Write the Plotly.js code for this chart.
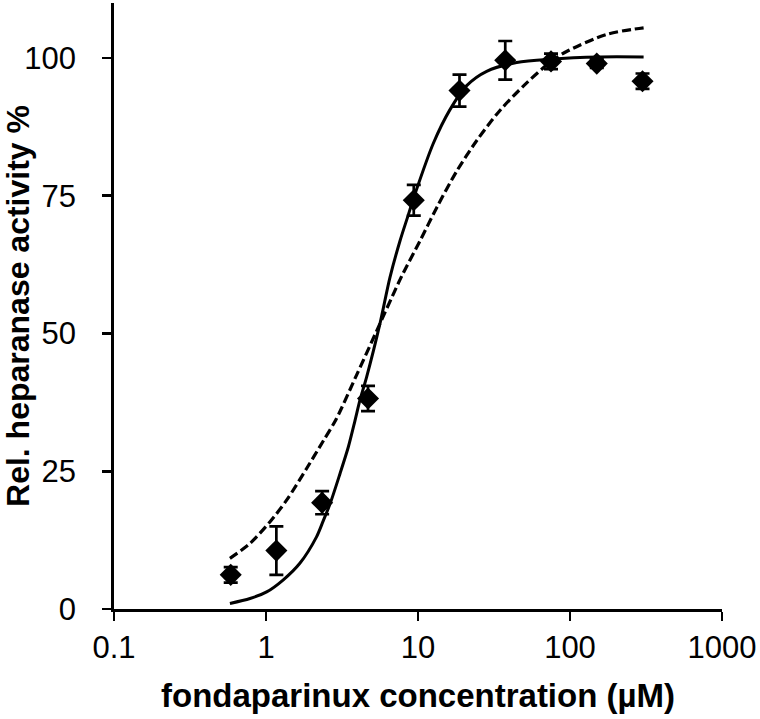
<!DOCTYPE html>
<html>
<head>
<meta charset="utf-8">
<script src="https://cdn.plot.ly/plotly-3.0.1.min.js"></script>
<style>html,body{margin:0;padding:0;background:#fff;}#chart{width:760px;height:719px;}</style>
</head>
<body>
<div id="chart"></div>
<script>
// Measured data (fondaparinux concentration in µM, relative heparanase activity %)
const concentrations = [0.586, 1.17, 2.34, 4.69, 9.38, 18.75, 37.5, 75, 150, 300];
const activity      = [6.2, 10.6, 19.3, 38.2, 74.2, 94.1, 99.6, 99.4, 99.0, 95.8];
const activityErr   = [1.4, 4.4, 2.1, 2.3, 2.8, 2.9, 3.5, 1.4, 0.8, 1.4];

// Solid fitted curve
const solidX = [0.579, 0.785, 1.01, 1.30, 1.67, 2.15, 2.38, 2.64, 3.07, 3.48, 3.85, 4.15, 4.59, 5.62, 6.54, 7.61, 8.51, 9.6, 12.6, 16.2, 20.9, 28.3, 44.6, 73.8, 157, 305];
const solidY = [1.0, 1.9, 3.1, 5.3, 8.3, 13.1, 16.0, 19.1, 24.6, 29.4, 34.2, 37.9, 42.1, 51.8, 60.2, 66.8, 71.0, 75.5, 84.5, 90.6, 95.0, 97.6, 99.2, 99.8, 100.2, 100.2];

// Dashed fitted curve
const dashX = [0.579, 0.785, 1.06, 1.37, 1.85, 2.38, 2.90, 3.95, 5.35, 7.24, 8.0, 10.3, 13.3, 18.0, 24.3, 34.6, 51.9, 76, 95, 174, 305];
const dashY = [9.2, 11.9, 15.8, 19.8, 25.5, 30.5, 34.5, 42.5, 50.5, 58.5, 61.0, 66.8, 72.9, 79.5, 85.0, 90.5, 95.5, 99.5, 101.2, 104.3, 105.5];

const xTickVals = [0.1, 1, 10, 100, 1000];
const xTickText = ['0.1', '1', '10', '100', '1000'];
const yTickVals = [0, 25, 50, 75, 100];
const yTickText = ['0', '25', '50', '75', '100'];

const FONT = '"Liberation Sans", Arial, Helvetica, sans-serif';

const traces = [
  {
    x: dashX, y: dashY, type: 'scatter', mode: 'lines',
    line: {color: '#000', width: 3.2, dash: '9px,4px', shape: 'spline', smoothing: 0.8},
    hoverinfo: 'skip', showlegend: false
  },
  {
    x: solidX, y: solidY, type: 'scatter', mode: 'lines',
    line: {color: '#000', width: 3, shape: 'spline', smoothing: 0.8},
    hoverinfo: 'skip', showlegend: false
  },
  {
    x: concentrations, y: activity, type: 'scatter', mode: 'markers',
    marker: {symbol: 'diamond', size: 17, color: '#000'},
    error_y: {type: 'data', array: activityErr, visible: true, color: '#000', thickness: 2.7, width: 7},
    cliponaxis: false, showlegend: false
  }
];

const layout = {
  width: 760, height: 719,
  margin: {l: 114, r: 38, t: 3, b: 110, pad: 0},
  paper_bgcolor: '#fff', plot_bgcolor: '#fff',
  font: {family: FONT, color: '#000'},
  showlegend: false,
  xaxis: {
    type: 'log', range: [-1, 3],
    tickvals: xTickVals, ticktext: xTickText,
    showline: true, linecolor: '#000', linewidth: 2.7,
    ticks: 'outside', ticklen: 9, tickwidth: 2.7, tickcolor: '#000',
    ticklabelstandoff: 0,
    showgrid: false, zeroline: false,
    tickfont: {family: FONT, size: 31, color: '#000'},
    title: {text: '<b>fondaparinux concentration (µM)</b>', font: {family: FONT, size: 33, color: '#000'}, standoff: 20},
    automargin: false
  },
  yaxis: {
    range: [0, 110],
    tickvals: yTickVals, ticktext: yTickText,
    showline: true, linecolor: '#000', linewidth: 2.7,
    ticks: 'outside', ticklen: 9, tickwidth: 2.7, tickcolor: '#000',
    ticklabelstandoff: 20,
    showgrid: false, zeroline: false,
    tickfont: {family: FONT, size: 31, color: '#000'},
    title: {text: '<b>Rel. heparanase activity %</b>', font: {family: FONT, size: 32, color: '#000'}, standoff: 8},
    automargin: false
  }
};

Plotly.newPlot('chart', traces, layout, {displayModeBar: false, staticPlot: true});
</script>
</body>
</html>
